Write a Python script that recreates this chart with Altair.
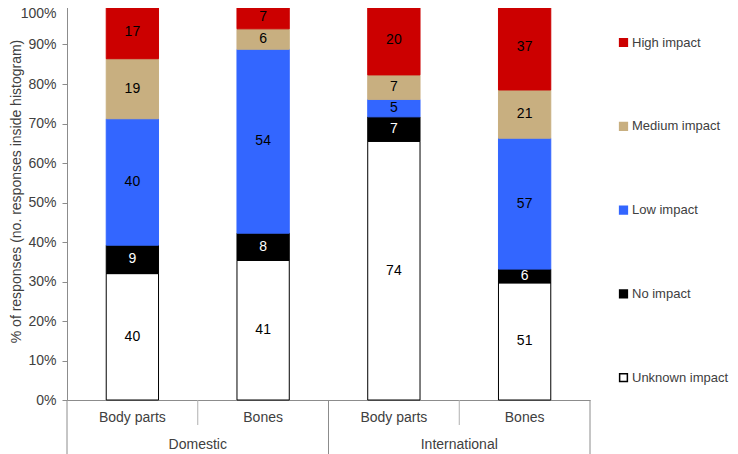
import altair as alt
import pandas as pd

# ---- data ----
groups = ["Domestic", "Domestic", "International", "International"]
subcats = ["Body parts", "Bones", "Body parts", "Bones"]
impacts = ["Unknown impact", "No impact", "Low impact", "Medium impact", "High impact"]
unknown_impact = [40, 41, 74, 51]
no_impact = [9, 8, 7, 6]
low_impact = [40, 54, 5, 57]
medium_impact = [19, 6, 7, 21]
high_impact = [17, 7, 20, 37]

legend_order = ["High impact", "Medium impact", "Low impact", "No impact", "Unknown impact"]
fill_colors = ["#CC0000", "#C8AF80", "#3366FF", "#000000", "#FFFFFF"]
stroke_colors = ["#CC0000", "#C8AF80", "#3366FF", "#000000", "#000000"]
y_ticks = [0, 0.1, 0.2, 0.3, 0.4, 0.5, 0.6, 0.7, 0.8, 0.9, 1.0]

FONT = "Liberation Sans"
GRAY = "#8C8C8C"
TXT = "#404040"

series = [unknown_impact, no_impact, low_impact, medium_impact, high_impact]
rows = []
for i in range(len(subcats)):
    total = sum(s[i] for s in series)
    cum = 0
    for name, s in zip(impacts, series):
        v = s[i]
        rows.append(dict(idx=i, group=groups[i], subcat=subcats[i], impact=name,
                         count=v, y0=cum / total, y1=(cum + v) / total))
        cum += v
bars_df = pd.DataFrame(rows)

cat_df = pd.DataFrame({"idx": list(range(len(subcats))), "subcat": subcats})
grp_names = ["Domestic", "International"]
grp_df = pd.DataFrame({"group": grp_names,
                       "first": [groups.index(g) for g in grp_names],
                       "n": [groups.count(g) for g in grp_names]})
sep_df = pd.DataFrame({"pos": list(range(len(subcats) + 1))})
sep_df["long"] = [p == 0 or p == len(subcats) or groups[p] != groups[p - 1] for p in sep_df["pos"]]

xscale = alt.Scale(domain=[0, len(subcats)], nice=False, zero=False)
yscale = alt.Scale(domain=[0, 1], nice=False)

x_axis = alt.Axis(labels=False, ticks=False, title=None, grid=False,
                  domain=True, domainColor=GRAY)
y_axis = alt.Axis(values=y_ticks, format=".0%", grid=False,
                  tickSize=5, tickColor=GRAY, domainColor=GRAY,
                  domain=True, ticks=True,
                  labelOverlap=False, labelFlush=False,
                  labelOffset={"condition": {"test": "datum.value >= 1", "value": 8}, "value": 0},
                  labelFont=FONT, labelFontSize=14, labelColor=TXT,
                  labelPadding=6,
                  title="% of responses (no. responses inside histogram)",
                  titleFont=FONT, titleFontSize=14, titleFontWeight="normal",
                  titleColor=TXT, titleX=-51, titleY=186,
                  titleAlign="center", titleBaseline="middle", titleAngle=270)

legend_spec = dict(title=None, orient="none", legendX=550, legendY=31,
                   symbolType="square", symbolSize=60,
                   labelFont=FONT, labelFontSize=13, labelColor=TXT,
                   rowPadding=68.8, labelOffset=2)

bars = alt.Chart(bars_df).transform_calculate(
    xa="datum.idx + 0.3", xb="datum.idx + 0.7"
).mark_bar(strokeWidth=1).encode(
    x=alt.X("xa:Q", scale=xscale, axis=x_axis),
    x2="xb:Q",
    y=alt.Y("y0:Q", scale=yscale, axis=y_axis),
    y2="y1:Q",
    fill=alt.Fill("impact:N", scale=alt.Scale(domain=legend_order, range=fill_colors),
                  legend=alt.Legend(**legend_spec)),
    stroke=alt.Stroke("impact:N", scale=alt.Scale(domain=legend_order, range=stroke_colors),
                      legend=alt.Legend(**legend_spec)),
)

labels = alt.Chart(bars_df).transform_calculate(
    xm="datum.idx + 0.5", ym="(datum.y0 + datum.y1) / 2"
).mark_text(font=FONT, fontSize=14).encode(
    x=alt.X("xm:Q", scale=xscale, axis=x_axis),
    y=alt.Y("ym:Q", scale=yscale, axis=y_axis),
    text="count:Q",
    fill=alt.condition(alt.datum.impact == "No impact", alt.value("white"), alt.value("black")),
)

cat_labels = alt.Chart(cat_df).transform_calculate(
    xm="datum.idx + 0.5"
).mark_text(font=FONT, fontSize=14, color=TXT).encode(
    x=alt.X("xm:Q", scale=xscale, axis=x_axis),
    y=alt.value(413),
    text="subcat:N",
)

grp_labels = alt.Chart(grp_df).transform_calculate(
    xm="datum.first + datum.n / 2"
).mark_text(font=FONT, fontSize=14, color=TXT).encode(
    x=alt.X("xm:Q", scale=xscale, axis=x_axis),
    y=alt.value(440),
    text="group:N",
)

short_seps = alt.Chart(sep_df).transform_filter("!datum.long").mark_rule(color="#B0B0B0").encode(
    x=alt.X("pos:Q", scale=xscale, axis=x_axis),
    y=alt.value(395),
    y2=alt.value(420),
)
long_seps = alt.Chart(sep_df).transform_filter("datum.long").mark_rule(color=GRAY).encode(
    x=alt.X("pos:Q", scale=xscale, axis=x_axis),
    y=alt.value(395),
    y2=alt.value(460),
)

chart = alt.layer(bars, labels, short_seps, long_seps, cat_labels, grp_labels).properties(
    width=523, height=395,
    padding={"left": 59, "top": -3, "right": 140, "bottom": 54},
    autosize=alt.AutoSizeParams(type="none"),
).configure(font=FONT).configure_view(strokeWidth=0)

chart.save("out.html", embed_options={"renderer": "svg", "actions": False})
